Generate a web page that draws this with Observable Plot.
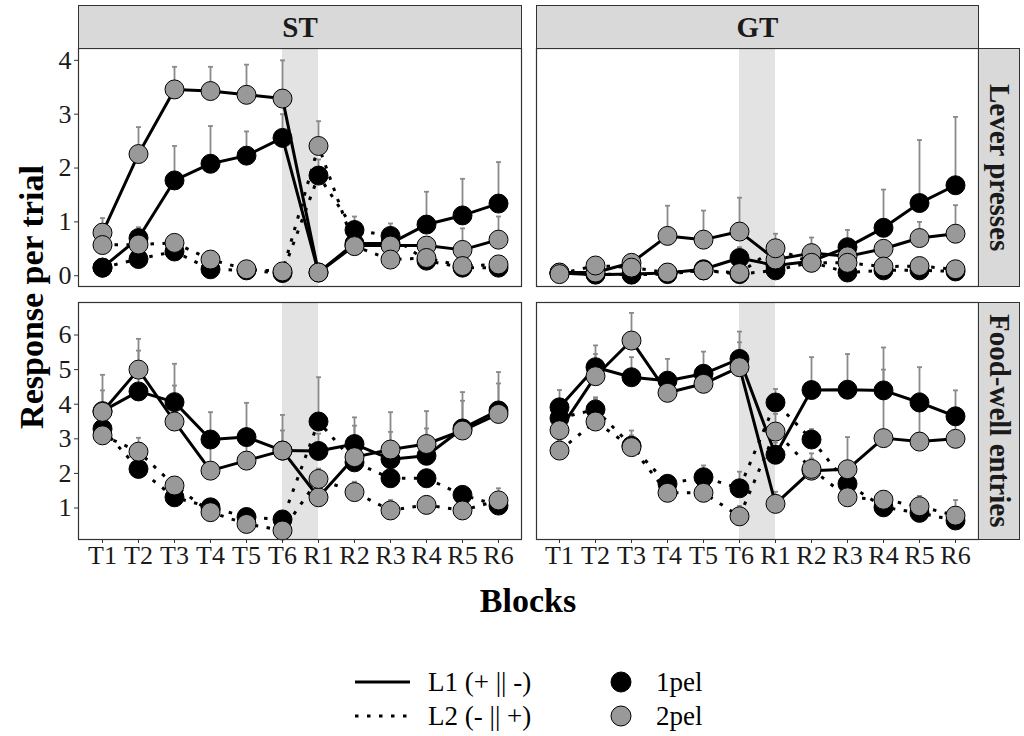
<!DOCTYPE html>
<html><head><meta charset="utf-8">
<script src="https://cdn.jsdelivr.net/npm/d3@7"></script>
<script src="https://cdn.jsdelivr.net/npm/@observablehq/plot@0.6"></script>
<style>
body{margin:0;background:#fff;}
#root{position:relative;width:1024px;height:736px;overflow:hidden;font-family:"Liberation Serif","Times New Roman",serif;background:#fff;}
.strip{position:absolute;box-sizing:border-box;background:#d9d9d9;border:1px solid #333;font-weight:bold;font-size:29px;display:flex;align-items:center;justify-content:center;color:#1a1a1a;}
.vstrip{writing-mode:vertical-rl;}
.panel{position:absolute;}
.panel text{font-family:"Liberation Serif","Times New Roman",serif;}
#overlay{position:absolute;left:0;top:0;}
</style></head><body><div id="root"></div>
<script>
// ---------- data ----------
const blocks = ["T1","T2","T3","T4","T5","T6","R1","R2","R3","R4","R5","R6"];
const shadeFrom = "T6", shadeTo = "R1";
const columns = ["ST","GT"];
const rowsLab = ["Lever presses","Food-well entries"];
const leverTicks = [0,1,2,3,4];
const foodTicks = [1,2,3,4,5,6];
const leverDomain = [-0.2, 4.22];
const foodDomain = [0.09, 6.94];

// ST – Lever presses
const st_lever_L1_1pel    = [0.15,0.70,1.77,2.08,2.23,2.56,0.06,0.60,0.60,0.95,1.12,1.34];
const st_lever_L1_1pel_se = [0.10,0.20,0.64,0.70,0.45,0.44,0.08,0.15,0.15,0.61,0.68,0.77];
const st_lever_L1_2pel    = [0.80,2.26,3.46,3.43,3.36,3.29,0.06,0.56,0.56,0.56,0.48,0.67];
const st_lever_L1_2pel_se = [0.27,0.50,0.42,0.45,0.56,0.71,0.05,0.10,0.10,0.14,0.40,0.43];
const st_lever_L2_1pel    = [0.15,0.31,0.45,0.12,0.10,0.05,1.86,0.85,0.74,0.28,0.15,0.15];
const st_lever_L2_1pel_se = [0.05,0.10,0.10,0.05,0.05,0.05,0.30,0.25,0.23,0.10,0.05,0.05];
const st_lever_L2_2pel    = [0.57,0.58,0.61,0.30,0.12,0.08,2.41,0.55,0.30,0.33,0.18,0.21];
const st_lever_L2_2pel_se = [0.10,0.10,0.10,0.05,0.05,0.05,0.46,0.10,0.10,0.10,0.05,0.05];

// GT – Lever presses
const gt_lever_L1_1pel    = [0.05,0.02,0.03,0.05,0.12,0.33,0.19,0.27,0.53,0.89,1.35,1.68];
const gt_lever_L1_1pel_se = [0.05,0.05,0.05,0.05,0.05,0.20,0.10,0.10,0.32,0.71,1.17,1.27];
const gt_lever_L1_2pel    = [0.06,0.06,0.24,0.74,0.67,0.82,0.30,0.42,0.36,0.50,0.70,0.78];
const gt_lever_L1_2pel_se = [0.05,0.10,0.10,0.56,0.54,0.63,0.10,0.29,0.10,0.15,0.30,0.53];
const gt_lever_L2_1pel    = [0.05,0.03,0.02,0.03,0.10,0.03,0.10,0.25,0.06,0.10,0.10,0.08];
const gt_lever_L2_1pel_se = [0.05,0.05,0.05,0.05,0.05,0.05,0.05,0.05,0.05,0.05,0.05,0.05];
const gt_lever_L2_2pel    = [0.03,0.19,0.15,0.06,0.10,0.05,0.51,0.24,0.24,0.17,0.18,0.12];
const gt_lever_L2_2pel_se = [0.05,0.05,0.05,0.05,0.05,0.05,0.27,0.10,0.10,0.10,0.10,0.10];

// ST – Food-well entries
const st_food_L1_1pel    = [3.80,4.37,4.06,2.98,3.05,2.66,2.65,2.85,2.41,2.51,3.30,3.82];
const st_food_L1_1pel_se = [0.60,1.18,1.11,0.79,0.99,0.58,0.50,0.77,0.79,0.79,1.05,1.11];
const st_food_L1_2pel    = [3.78,5.00,3.50,2.08,2.37,2.66,1.31,2.47,2.69,2.85,3.24,3.72];
const st_food_L1_2pel_se = [1.07,0.89,1.04,0.80,0.65,1.03,0.50,0.91,1.08,0.95,0.86,0.88];
const st_food_L2_1pel    = [3.29,2.13,1.31,1.02,0.74,0.67,3.50,2.32,1.86,1.86,1.38,1.07];
const st_food_L2_1pel_se = [0.30,0.30,0.20,0.20,0.15,0.15,1.28,0.30,0.25,0.25,0.20,0.15];
const st_food_L2_2pel    = [3.10,2.63,1.65,0.88,0.54,0.35,1.84,1.46,0.93,1.09,0.93,1.22];
const st_food_L2_2pel_se = [0.30,0.40,0.20,0.25,0.15,0.15,0.30,0.30,0.30,0.25,0.20,0.35];

// GT – Food-well entries
const gt_food_L1_1pel    = [3.91,5.07,4.78,4.68,4.88,5.31,2.54,4.41,4.42,4.40,4.05,3.65];
const gt_food_L1_1pel_se = [0.50,0.63,0.58,0.63,0.64,0.79,0.35,0.95,1.03,0.60,1.02,0.75];
const gt_food_L1_2pel    = [3.25,4.81,5.84,4.33,4.59,5.07,1.12,2.08,2.12,3.02,2.92,3.00];
const gt_food_L1_2pel_se = [0.60,0.64,0.80,0.60,0.50,0.72,0.35,0.50,0.93,2.62,1.40,0.90];
const gt_food_L2_1pel    = [3.60,3.85,2.80,1.70,1.89,1.57,4.05,2.98,1.70,1.02,0.86,0.64];
const gt_food_L2_1pel_se = [0.30,0.30,0.30,0.20,0.34,0.48,0.39,0.30,0.30,0.20,0.20,0.20];
const gt_food_L2_2pel    = [2.66,3.50,2.76,1.44,1.44,0.76,3.21,2.13,1.31,1.24,1.05,0.78];
const gt_food_L2_2pel_se = [0.30,0.70,0.48,0.20,0.30,0.30,0.51,0.30,0.30,0.20,0.30,0.45];

// ---------- build tables ----------
function table(series) {
  const out = [];
  for (const s of series) {
    s.v.forEach((v, i) => out.push({block: blocks[i], value: v, se: s.se[i], line: s.line, dose: s.dose, key: s.line + s.dose}));
  }
  return out;
}
const panelData = [
  {col: 0, row: 0, domain: leverDomain, ticks: leverTicks, data: table([
    {line:"L1", dose:"1pel", v: st_lever_L1_1pel, se: st_lever_L1_1pel_se},
    {line:"L1", dose:"2pel", v: st_lever_L1_2pel, se: st_lever_L1_2pel_se},
    {line:"L2", dose:"1pel", v: st_lever_L2_1pel, se: st_lever_L2_1pel_se},
    {line:"L2", dose:"2pel", v: st_lever_L2_2pel, se: st_lever_L2_2pel_se}])},
  {col: 1, row: 0, domain: leverDomain, ticks: leverTicks, data: table([
    {line:"L1", dose:"1pel", v: gt_lever_L1_1pel, se: gt_lever_L1_1pel_se},
    {line:"L1", dose:"2pel", v: gt_lever_L1_2pel, se: gt_lever_L1_2pel_se},
    {line:"L2", dose:"1pel", v: gt_lever_L2_1pel, se: gt_lever_L2_1pel_se},
    {line:"L2", dose:"2pel", v: gt_lever_L2_2pel, se: gt_lever_L2_2pel_se}])},
  {col: 0, row: 1, domain: foodDomain, ticks: foodTicks, data: table([
    {line:"L1", dose:"1pel", v: st_food_L1_1pel, se: st_food_L1_1pel_se},
    {line:"L1", dose:"2pel", v: st_food_L1_2pel, se: st_food_L1_2pel_se},
    {line:"L2", dose:"1pel", v: st_food_L2_1pel, se: st_food_L2_1pel_se},
    {line:"L2", dose:"2pel", v: st_food_L2_2pel, se: st_food_L2_2pel_se}])},
  {col: 1, row: 1, domain: foodDomain, ticks: foodTicks, data: table([
    {line:"L1", dose:"1pel", v: gt_food_L1_1pel, se: gt_food_L1_1pel_se},
    {line:"L1", dose:"2pel", v: gt_food_L1_2pel, se: gt_food_L1_2pel_se},
    {line:"L2", dose:"1pel", v: gt_food_L2_1pel, se: gt_food_L2_1pel_se},
    {line:"L2", dose:"2pel", v: gt_food_L2_2pel, se: gt_food_L2_2pel_se}])}
];

// ---------- layout ----------
const colX = [[78, 521], [536, 978]];
const rowY = [[48, 286], [302, 539]];
const mL = 50, mR = 3, mT = 3, mB = 40;
const FONT = '"Liberation Serif","Times New Roman",serif';
const cap = {draw(ctx, size) { const r = Math.sqrt(size / Math.PI); ctx.moveTo(-r, 0); ctx.lineTo(r, 0); }};
const root = document.getElementById("root");

for (const p of panelData) {
  const [x0, x1] = colX[p.col], [y0, y1] = rowY[p.row];
  const showX = p.row === 1, showY = p.col === 0;
  const d = p.data;
  const chart = Plot.plot({
    width: (x1 - x0) + mL + mR,
    height: (y1 - y0) + mT + mB,
    marginLeft: mL, marginRight: mR, marginTop: mT, marginBottom: mB,
    style: {background: "transparent", fontFamily: FONT, fontSize: "26px", color: "#1a1a1a", overflow: "visible"},
    x: {type: "point", domain: blocks, padding: 0.6, axis: null},
    y: {domain: p.domain, axis: null},
    marks: [
      Plot.rect([{a: shadeFrom, b: shadeTo}], {x1: "a", x2: "b", fill: "#e3e3e3"}),
      Plot.ruleX(d, {x: "block", y1: "value", y2: r => r.value + r.se, stroke: "#8a8a8a", strokeWidth: 1.8}),
      Plot.dot(d, {x: "block", y: r => r.value + r.se, symbol: cap, r: 2.5, stroke: "#8a8a8a", strokeWidth: 1.8, fill: "none"}),
      Plot.line(d.filter(r => r.line === "L1"), {x: "block", y: "value", z: "key", stroke: "black", strokeWidth: 3}),
      Plot.line(d.filter(r => r.line === "L2"), {x: "block", y: "value", z: "key", stroke: "black", strokeWidth: 3, strokeDasharray: "3.5,8.5", strokeLinecap: "butt"}),
      Plot.dot(d.filter(r => r.dose === "1pel"), {x: "block", y: "value", r: 9.5, fill: "black", stroke: "black", strokeWidth: 1}),
      Plot.dot(d.filter(r => r.dose === "2pel"), {x: "block", y: "value", r: 9.5, fill: "#999999", stroke: "black", strokeWidth: 1}),
      Plot.frame({stroke: "#333", strokeWidth: 1.2}),
      showX ? Plot.axisX({tickSize: 4, tickPadding: 2, label: null, fontSize: 26, fontFamily: FONT, stroke: "#333"}) : null,
      showY ? Plot.axisY({ticks: p.ticks, tickFormat: d3.format("d"), tickSize: 4, tickPadding: 3, label: null, fontSize: 26, fontFamily: FONT, stroke: "#333"}) : null
    ]
  });
  chart.classList.add("panel");
  chart.style.left = (x0 - mL) + "px";
  chart.style.top = (y0 - mT) + "px";
  root.appendChild(chart);
}

// strips
columns.forEach((c, i) => {
  const s = document.createElement("div");
  s.className = "strip";
  s.textContent = c;
  s.style.left = colX[i][0] + "px"; s.style.top = "5px";
  s.style.width = (colX[i][1] - colX[i][0] + 1) + "px"; s.style.height = (rowY[0][0] - 5 + 1) + "px";
  root.appendChild(s);
});
rowsLab.forEach((c, i) => {
  const s = document.createElement("div");
  s.className = "strip vstrip";
  s.textContent = c;
  s.style.left = (colX[1][1]) + "px"; s.style.top = rowY[i][0] + "px";
  s.style.width = (1020 - colX[1][1]) + "px"; s.style.height = (rowY[i][1] - rowY[i][0] + 1) + "px";
  root.appendChild(s);
});

// titles + legend
const ns = "http://www.w3.org/2000/svg";
const ov = document.createElementNS(ns, "svg");
ov.setAttribute("id", "overlay"); ov.setAttribute("width", 1024); ov.setAttribute("height", 736);
ov.style.fontFamily = FONT;
function txt(x, y, s, size, weight, extra) {
  const t = document.createElementNS(ns, "text");
  t.setAttribute("x", x); t.setAttribute("y", y); t.setAttribute("font-size", size);
  t.setAttribute("font-weight", weight); t.setAttribute("fill", "#000");
  if (extra) for (const k in extra) t.setAttribute(k, extra[k]);
  t.textContent = s; ov.appendChild(t); return t;
}
function el(tag, attrs) { const e = document.createElementNS(ns, tag); for (const k in attrs) e.setAttribute(k, attrs[k]); ov.appendChild(e); return e; }
txt(0, 0, "Response per trial", 34, "bold", {"text-anchor": "middle", "dominant-baseline": "central", transform: "translate(31,297) rotate(-90)"});
txt((colX[0][0] + colX[1][1]) / 2, 600, "Blocks", 34, "bold", {"text-anchor": "middle", "dominant-baseline": "central"});
const legLines = [{label: "L1 (+ || -)", dash: null}, {label: "L2 (- || +)", dash: "3.5,8.5"}];
const legDose = [{label: "1pel", fill: "#000"}, {label: "2pel", fill: "#999999"}];
const legY = [682, 716];
legLines.forEach((l, i) => {
  const ln = el("line", {x1: 355, x2: 410, y1: legY[i], y2: legY[i], stroke: "#000", "stroke-width": 3});
  if (l.dash) ln.setAttribute("stroke-dasharray", l.dash);
  txt(428, legY[i], l.label, 27, "normal", {"dominant-baseline": "central"});
});
legDose.forEach((l, i) => {
  el("circle", {cx: 621, cy: legY[i], r: 10, fill: l.fill, stroke: "#000", "stroke-width": 1});
  txt(656, legY[i], l.label, 27, "normal", {"dominant-baseline": "central"});
});
root.insertBefore(ov, root.firstChild);
</script></body></html>
